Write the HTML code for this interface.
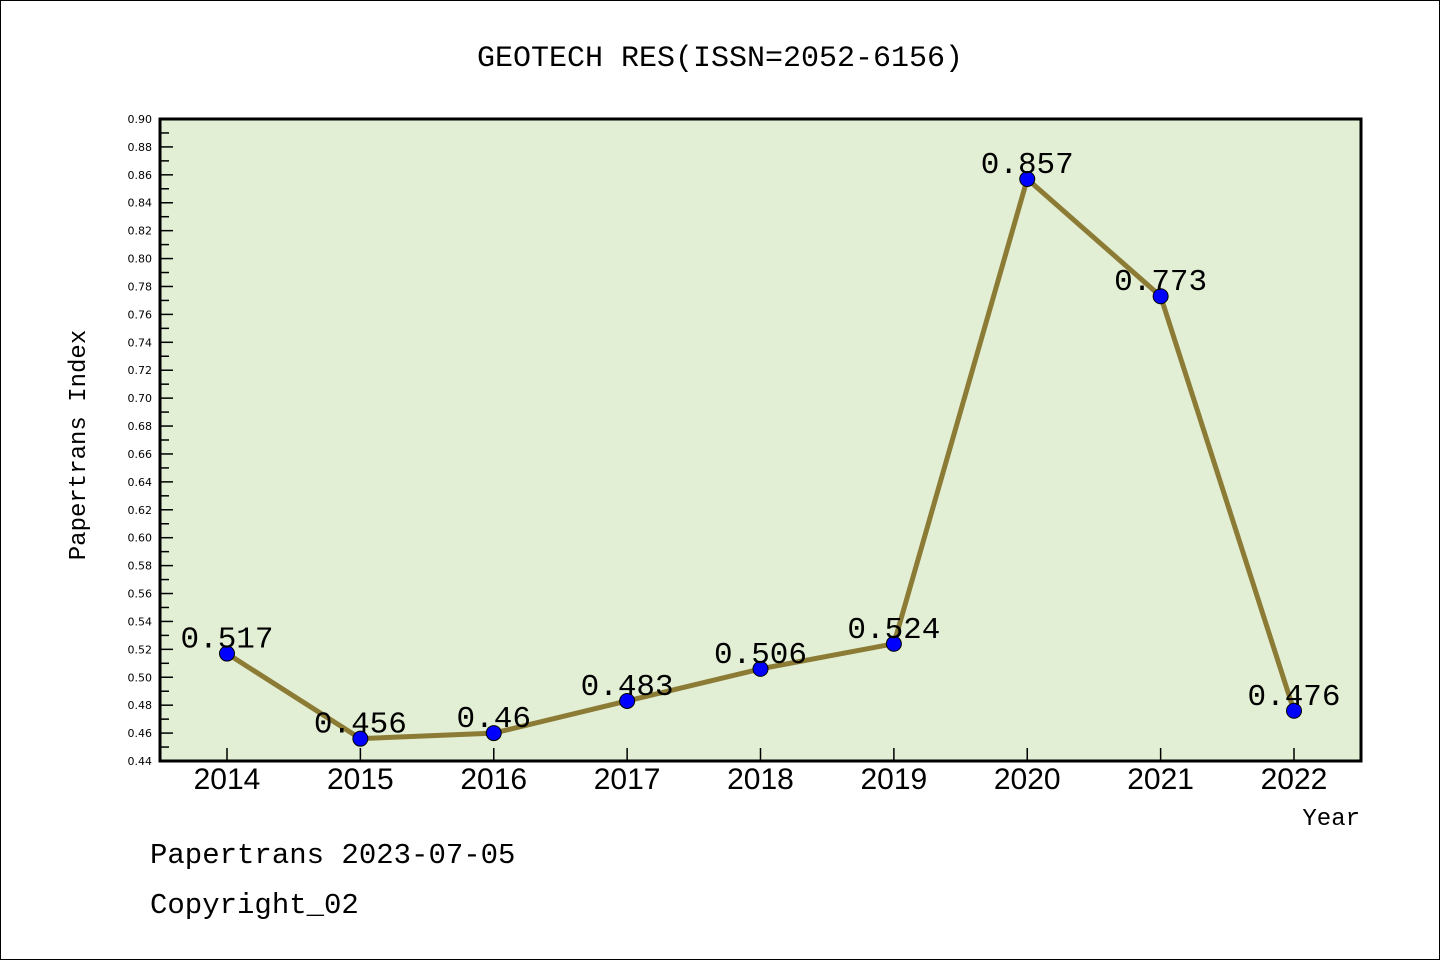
<!DOCTYPE html>
<html><head><meta charset="utf-8"><style>
body{margin:0;background:#fff;}
svg{display:block;font-family:"Liberation Mono","DejaVu Sans Mono",monospace;}
</style></head><body>
<svg id="chart" width="1440" height="960">
<rect x="0.5" y="0.5" width="1439" height="959" fill="#fff" stroke="#000"/>
<text x="720" y="66" text-anchor="middle" font-size="30">GEOTECH RES(ISSN=2052-6156)</text>
<rect x="160" y="119" width="1201" height="642" fill="#e2efd4" stroke="#000" stroke-width="3"/>
<g id="yaxis"></g>
<g id="xaxis"></g>
<g id="series"></g>
<text transform="translate(85,445) rotate(-90)" text-anchor="middle" font-size="24">Papertrans Index</text>
<text x="1360" y="825" text-anchor="end" font-size="24">Year</text>
<text x="150" y="863" font-size="29">Papertrans 2023-07-05</text>
<text x="150" y="913" font-size="29">Copyright_02</text>
</svg>
<script>
const years = ["2014","2015","2016","2017","2018","2019","2020","2021","2022"];
const values = [0.517,0.456,0.46,0.483,0.506,0.524,0.857,0.773,0.476];
const labels = ["0.517","0.456","0.46","0.483","0.506","0.524","0.857","0.773","0.476"];
const yMin = 0.44, yMax = 0.90;
const NS="http://www.w3.org/2000/svg";
const L=160,R=1361,T=119,B=761;
function yS(v){return B-(v-yMin)/(yMax-yMin)*(B-T);}
function xS(i){return 227+i*(1294-227)/(years.length-1);}
function mk(tag,attrs,parent){const e=document.createElementNS(NS,tag);for(const k in attrs)e.setAttribute(k,attrs[k]);parent.appendChild(e);return e;}
const ya=document.getElementById('yaxis'),xa=document.getElementById('xaxis'),sg=document.getElementById('series');
for(let k=0;k<=46;k++){
  const v=yMin+k*0.01,y=yS(v),major=k%2===0;
  const t=mk('line',{x1:L,x2:L+(major?13:9),y1:y,y2:y,stroke:'#000','stroke-width':1.5},ya);
  
  
  if(major){
    const tx=mk('text',{x:152,y:y+4,'text-anchor':'end','font-size':11,'font-family':'"DejaVu Sans",sans-serif'},ya);
    tx.textContent=v.toFixed(2);
    
    
  }
}
years.forEach((yr,i)=>{
  const x=xS(i);
  const t=mk('line',{x1:x,x2:x,y1:B,y2:B-13,stroke:'#000','stroke-width':1.5},xa);
  
  
  const tx=mk('text',{x:x,y:789,'text-anchor':'middle','font-size':30,'font-family':'"Liberation Sans",sans-serif'},xa);
  tx.textContent=yr;
  
  
});
const pts=values.map((v,i)=>xS(i)+','+yS(v)).join(' ');
const pl=mk('polyline',{points:pts,fill:'none',stroke:'#8c7b35','stroke-width':5,'stroke-linejoin':'round'},sg);


values.forEach((v,i)=>{
  const c=mk('circle',{cx:xS(i),cy:yS(v),r:7.5,fill:'#0000ff',stroke:'#000','stroke-width':1},sg);
  
  
  const tx=mk('text',{x:xS(i),y:yS(v)-6,'text-anchor':'middle','font-size':31},sg);
  tx.textContent=labels[i];
  
  
});
</script>
</body></html>
